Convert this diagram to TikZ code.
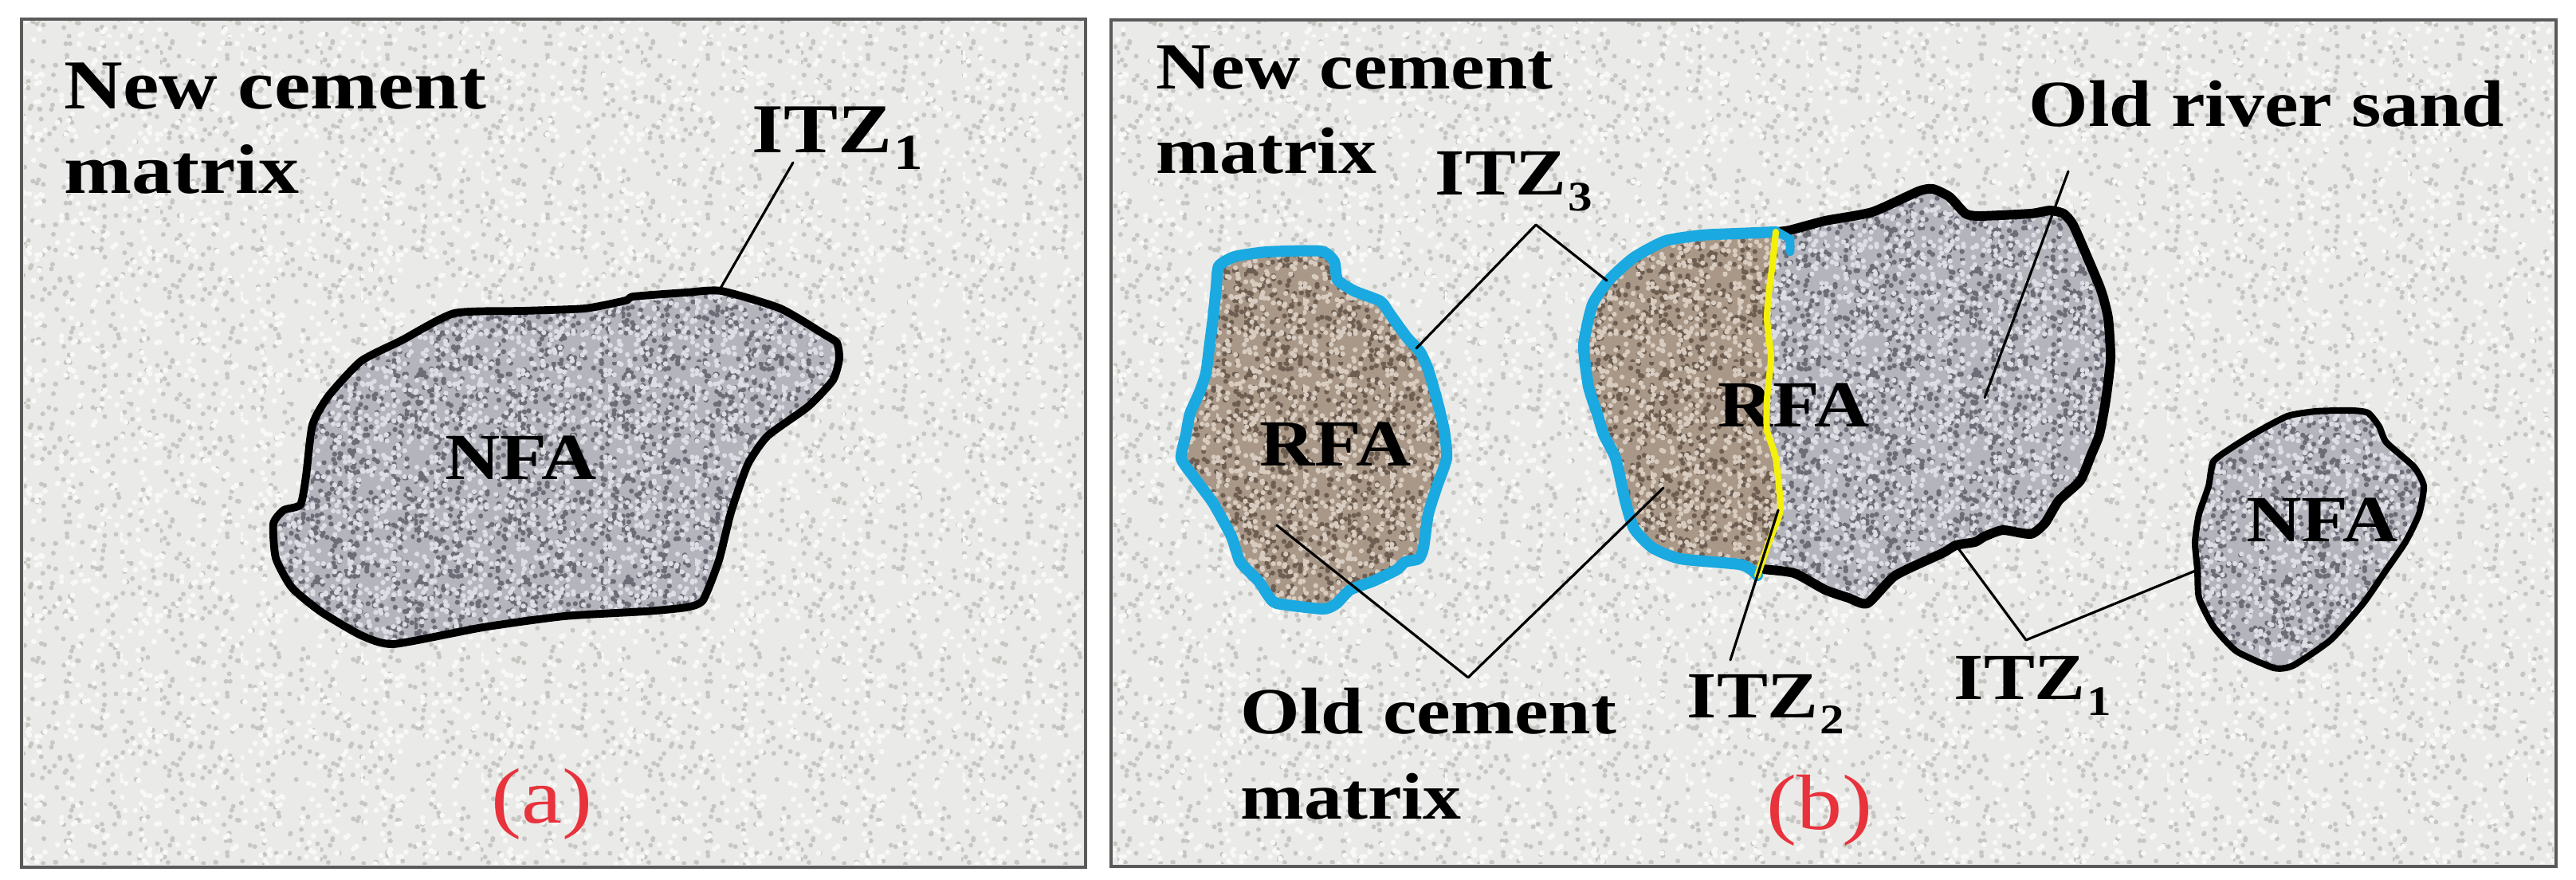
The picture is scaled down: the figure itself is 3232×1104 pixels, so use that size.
\documentclass[tikz,border=0pt]{standalone}
\usepackage{fontspec}
\setmainfont{Liberation Serif}
\usepackage{graphicx}
\usetikzlibrary{patterns}
\definecolor{bgbase}{HTML}{EAEAE8}
\definecolor{bgspeck}{HTML}{C6C6C3}
\definecolor{bglight}{HTML}{F8F8F6}
\definecolor{nfabase}{HTML}{B3B4BC}
\definecolor{nfadark}{HTML}{6C6D76}
\definecolor{nfalight}{HTML}{DCDEE4}
\definecolor{rfabase}{HTML}{A99887}
\definecolor{rfadark}{HTML}{6E5E52}
\definecolor{rfalight}{HTML}{D8CCC0}
\definecolor{itzblue}{HTML}{1AA9E0}
\definecolor{itzyellow}{HTML}{F4F00A}
\definecolor{labred}{HTML}{E8323C}
\definecolor{framegray}{HTML}{5A5A5A}
\pgfdeclarepatternformonly{speckA}{\pgfqpoint{0pt}{0pt}}{\pgfqpoint{57pt}{57pt}}{\pgfqpoint{57pt}{57pt}}{%
  \pgfmathsetseed{7}%
  \foreach \i in {1,...,140}{\pgfpathcircle{\pgfpoint{rnd*57pt}{rnd*57pt}}{0.85pt}}%
  \pgfusepath{fill}}
\pgfdeclarepatternformonly{speckB}{\pgfqpoint{0pt}{0pt}}{\pgfqpoint{43pt}{43pt}}{\pgfqpoint{43pt}{43pt}}{%
  \pgfmathsetseed{11}%
  \foreach \i in {1,...,80}{\pgfpathcircle{\pgfpoint{rnd*43pt}{rnd*43pt}}{0.95pt}}%
  \pgfusepath{fill}}
\pgfdeclarepatternformonly{speckC}{\pgfqpoint{0pt}{0pt}}{\pgfqpoint{37pt}{37pt}}{\pgfqpoint{37pt}{37pt}}{%
  \pgfmathsetseed{23}%
  \foreach \i in {1,...,170}{\pgfpathcircle{\pgfpoint{rnd*37pt}{rnd*37pt}}{0.9pt}}%
  \pgfusepath{fill}}
\pgfdeclarepatternformonly{speckD}{\pgfqpoint{0pt}{0pt}}{\pgfqpoint{31pt}{31pt}}{\pgfqpoint{31pt}{31pt}}{%
  \pgfmathsetseed{31}%
  \foreach \i in {1,...,120}{\pgfpathcircle{\pgfpoint{rnd*31pt}{rnd*31pt}}{0.9pt}}%
  \pgfusepath{fill}}
\newcommand\sx[1]{\scalebox{1.16}[1]{#1}}
\newcommand\itzlab[1]{\sx{ITZ\kern0.5pt\raisebox{-5.5pt}{\fontsize{15}{15}\selectfont #1}}}
\newcommand\itzlabA[1]{\sx{ITZ\kern0.5pt\raisebox{-5.7pt}{\fontsize{18}{18}\selectfont #1}}}
\newcommand\pathNFAa{plot[smooth cycle,tension=0.35] coordinates {(905,365) (979,387) (1035,420) (1050,430) (1053,450) (1045,477) (1014,510) (963,547) (938,583) (917,643) (902,703) (882,753) (861,762) (810,767) (708,773) (606,787) (494,808) (453,797) (402,767) (366,737) (346,700) (343,657) (356,640) (377,633) (384,597) (392,533) (412,497) (453,453) (504,427) (570,393) (657,390) (734,387) (785,377) (795,372) (861,367)}}
\newcommand\pathRFAl{plot[smooth cycle,tension=0.35] coordinates {(1529,334) (1549,322) (1590,316) (1657,315) (1674,328) (1678,351) (1699,365) (1732,378) (1744,394) (1765,423) (1782,442) (1792,464) (1803,502) (1812,540) (1815,575) (1803,610) (1792,645) (1786,687) (1780,701) (1763,705) (1752,715) (1723,729) (1694,740) (1677,757) (1660,764) (1602,757) (1591,747) (1579,729) (1556,705) (1545,673) (1522,631) (1499,600) (1482,575) (1488,545) (1493,519) (1505,492) (1513,468) (1518,430) (1522,399) (1526,360)}}
\newcommand\pathBlack{plot[smooth,tension=0.35] coordinates {(2228,291) (2245,289) (2290,277) (2349,266) (2407,240) (2425,237) (2446,247) (2466,268) (2484,271) (2548,268) (2572,264) (2589,268) (2601,282) (2619,323) (2636,364) (2645,399) (2648,450) (2642,502) (2634,545) (2624,570) (2610,603) (2583,628) (2566,656) (2548,670) (2513,665) (2490,673) (2478,680) (2454,684) (2437,694) (2378,722) (2343,757) (2319,750) (2290,740) (2251,719) (2210,714)}}
\newcommand\pathBig{plot[smooth cycle,tension=0.35] coordinates {(2228,291) (2245,289) (2290,277) (2349,266) (2407,240) (2425,237) (2446,247) (2466,268) (2484,271) (2548,268) (2572,264) (2589,268) (2601,282) (2619,323) (2636,364) (2645,399) (2648,450) (2642,502) (2634,545) (2624,570) (2610,603) (2583,628) (2566,656) (2548,670) (2513,665) (2490,673) (2478,680) (2454,684) (2437,694) (2378,722) (2343,757) (2319,750) (2290,740) (2251,719) (2210,716) (2217,687) (2225,665) (2234,638) (2228,575) (2217,540) (2217,502) (2219,480) (2222,450) (2220,430) (2217,399) (2219,370) (2224,330)}}
\newcommand\pathYellow{plot[smooth,tension=0.35] coordinates {(2228,291) (2224,330) (2219,370) (2217,399) (2220,430) (2222,450) (2219,480) (2217,502) (2217,540) (2228,575) (2234,638) (2225,665) (2217,687) (2205,722)}}
\newcommand\pathBlue{plot[smooth,tension=0.35] coordinates {(2205,722) (2199,716) (2182,708) (2108,701) (2073,687) (2050,663) (2039,628) (2027,575) (2012,545) (2004,519) (1993,485) (1987,433) (1998,382) (2019,351) (2050,323) (2090,302) (2136,295) (2180,293) (2228,291)}}
\newcommand\pathMid{plot[smooth cycle,tension=0.35] coordinates {(2205,722) (2199,716) (2182,708) (2108,701) (2073,687) (2050,663) (2039,628) (2027,575) (2012,545) (2004,519) (1993,485) (1987,433) (1998,382) (2019,351) (2050,323) (2090,302) (2136,295) (2180,293) (2228,291) (2224,330) (2219,370) (2217,399) (2220,430) (2222,450) (2219,480) (2217,502) (2217,540) (2228,575) (2234,638) (2225,665) (2217,687)}}
\newcommand\pathNFAs{plot[smooth cycle,tension=0.35] coordinates {(2777,579) (2801,561) (2830,543) (2870,522) (2906,516) (2950,515) (2971,518) (2985,535) (2994,555) (3029,586) (3041,610) (3035,645) (3018,680) (2994,715) (2965,757) (2924,803) (2877,835) (2853,838) (2806,817) (2777,786) (2759,750) (2757,715) (2754,680) (2759,645) (2771,610)}}
\tikzset{
  lab/.style={font=\bfseries\fontsize{23.5}{28}\selectfont, inner sep=0pt, anchor=base west},
  labA/.style={lab, font=\bfseries\fontsize{25}{30}\selectfont},
  panlab/.style={font=\fontsize{28}{32}\selectfont, text=labred, inner sep=0pt, anchor=center},
  leader/.style={line width=0.9pt, black, line cap=round, line join=round},
  framebox/.style={draw=framegray, line width=1.1pt, fill=bgbase},
  grainline/.style={draw=black, line width=#1, line join=round},
  matrixtex/.style={pattern=speckA, pattern color=bgspeck},
  matrixtexb/.style={pattern=speckB, pattern color=bglight},
  nfatex/.style={pattern=speckC, pattern color=nfadark},
  nfatexb/.style={pattern=speckD, pattern color=nfalight},
  rfatex/.style={pattern=speckC, pattern color=rfadark},
  rfatexb/.style={pattern=speckD, pattern color=rfalight},
}
\begin{document}
\begin{tikzpicture}[x=0.01cm, y=-0.01cm]
\useasboundingbox (0,0) rectangle (3232,1104);
\fill[white] (0,0) rectangle (3232,1104);
% ---------- panel frames and matrix texture ----------
\path[framebox] (27,24) rectangle (1362,1088);
\path[framebox] (1394,25) rectangle (3207,1087);
\fill[matrixtex] (30,27) rectangle (1359,1085);
\fill[matrixtexb] (30,27) rectangle (1359,1085);
\fill[matrixtex] (1397,28) rectangle (3204,1084);
\fill[matrixtexb] (1397,28) rectangle (3204,1084);
% ---------- panel (a) ----------
\fill[nfabase] \pathNFAa;
\fill[nfatex] \pathNFAa;
\fill[nfatexb] \pathNFAa;
\draw[grainline=2.8pt] \pathNFAa;
\node[labA] (ncA1) at (80,137) {\sx{New cement}};
\node[labA] (ncA2) at (80,243) {\sx{matrix}};
\node[labA] (itzA) at (943,192) {\itzlabA{1}};
\node[lab] (nfaA) at (558,602) {\sx{NFA}};
\node[panlab] (capA) at (680,1009) {\sx{(a)}};
\coordinate (itzAend) at (995,204);
\coordinate (itzAon) at (902,365);
\draw[leader] (itzAend) -- (itzAon);
% ---------- panel (b): grains ----------
\fill[rfabase] \pathRFAl;
\fill[rfatex] \pathRFAl;
\fill[rfatexb] \pathRFAl;
\draw[draw=itzblue, line width=4pt, line join=round] \pathRFAl;
\fill[nfabase] \pathBig;
\fill[nfatex] \pathBig;
\fill[nfatexb] \pathBig;
\fill[rfabase] \pathMid;
\fill[rfatex] \pathMid;
\fill[rfatexb] \pathMid;
\draw[grainline=3.4pt] \pathBlack;
\draw[draw=itzblue, line width=4pt, line join=round, line cap=round] \pathBlue;
\draw[draw=itzblue, line width=3pt, line cap=round] (2232,292) -- (2246,300) -- (2246,316);
\fill[nfabase] \pathNFAs;
\fill[nfatex] \pathNFAs;
\fill[nfatexb] \pathNFAs;
\draw[grainline=2.3pt] \pathNFAs;
% ---------- panel (b): labels ----------
\node[lab] (ncB1) at (1450,112) {\sx{New cement}};
\node[lab] (ncB2) at (1450,218) {\sx{matrix}};
\node[lab] (itzC) at (1800,245) {\itzlab{3}};
\node[lab] (ors) at (2545,159) {\sx{Old river sand}};
\node[lab] (rfaL) at (1580,585) {\sx{RFA}};
\node[lab] (rfaM) at (2155,536) {\sx{RFA}};
\node[lab] (ocm1) at (1556,921) {\sx{Old cement}};
\node[lab] (ocm2) at (1556,1028) {\sx{matrix}};
\node[lab] (itzB) at (2116,901) {\itzlab{2}};
\node[lab] (itzD) at (2451,878) {\itzlab{1}};
\node[lab] (nfaS) at (2818,680) {\sx{NFA}};
\node[panlab] (capB) at (2283,1017) {\sx{(b)}};
\draw[draw=itzyellow, line width=2.3pt, line cap=round] \pathYellow;
% ---------- panel (b): leaders ----------
\coordinate (itzCa) at (1777,437);
\coordinate (itzCapex) at (1927,282);
\coordinate (itzCb) at (2016,352);
\draw[leader] (itzCa) -- (itzCapex) -- (itzCb);
\coordinate (orsTop) at (2595,215);
\coordinate (orsIn) at (2490,499);
\draw[leader] (orsTop) -- (orsIn);
\coordinate (ocmL) at (1602,659);
\coordinate (ocmApex) at (1842,850);
\coordinate (ocmR) at (2087,612);
\draw[leader] (ocmL) -- (ocmApex) -- (ocmR);
\coordinate (itzBon) at (2231,640);
\coordinate (itzBend) at (2171,828);
\draw[leader] (itzBon) -- (itzBend);
\coordinate (itzDa) at (2454,684);
\coordinate (itzDapex) at (2542,803);
\coordinate (itzDb) at (2757,715);
\draw[leader] (itzDa) -- (itzDapex) -- (itzDb);
\end{tikzpicture}
\end{document}
